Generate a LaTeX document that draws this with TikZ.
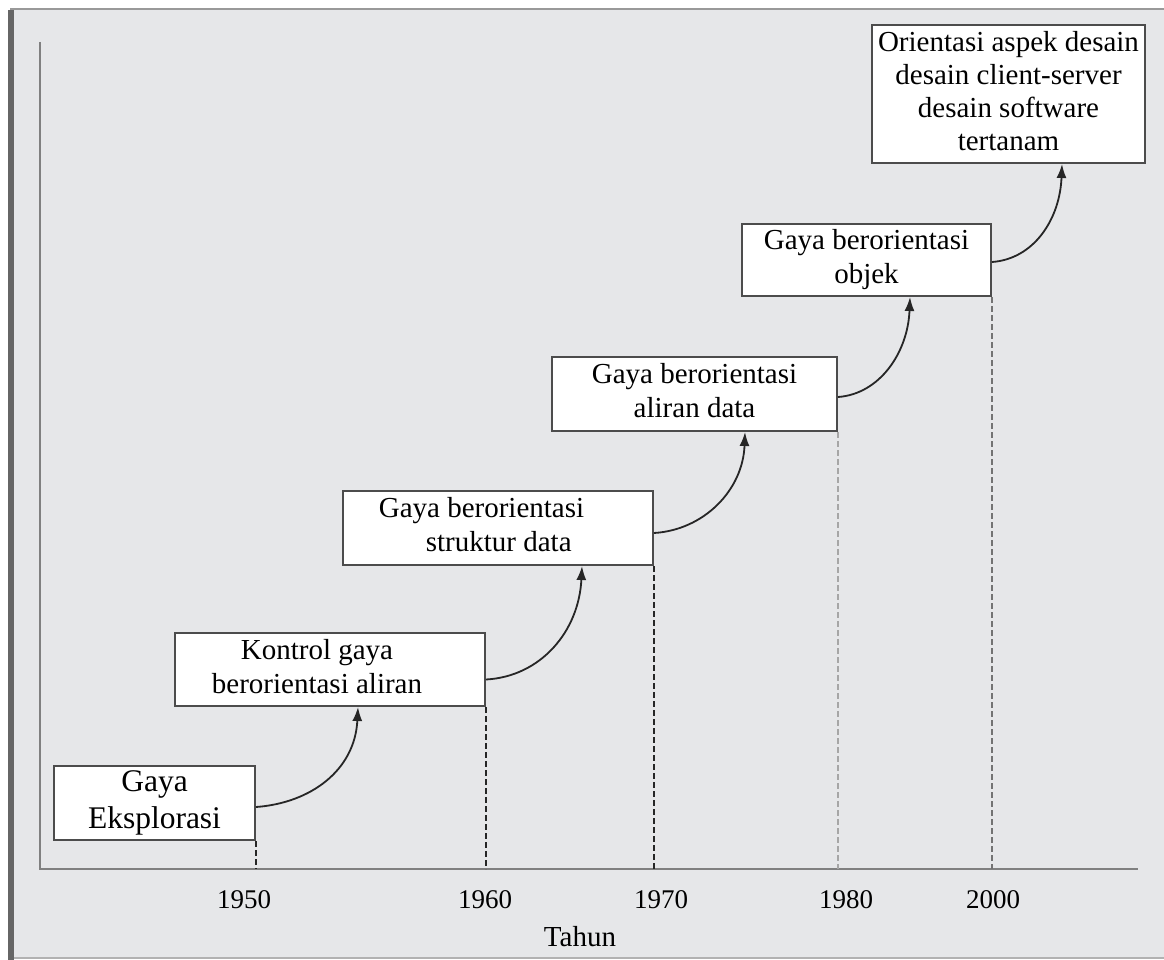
\documentclass[tikz,border=0pt]{standalone}
\usepackage{fontspec}
\setmainfont{Liberation Serif}
\usetikzlibrary{arrows.meta}
\definecolor{panel}{RGB}{230,231,233}
\definecolor{axisgray}{RGB}{128,128,128}
\newcommand{\boxlines}[1]{\begin{tabular}{@{}c@{}}#1\end{tabular}}
\begin{document}
\begin{tikzpicture}[x=1pt,y=-1pt,
  box/.style={draw=black!70, line width=2pt, fill=white, inner sep=0pt, font=\fontsize{29}{34}\selectfont},
  link/.style={draw=black!85, line width=1.8pt, -{Latex[length=14pt,width=10pt]}},
  tick/.style={dash pattern=on 6pt off 3pt, line width=2pt},
  year/.style={font=\fontsize{27}{32}\selectfont}]
\useasboundingbox (0,0) rectangle (1164,960);
\fill[white] (0,0) rectangle (1164,960);
\fill[panel] (14,10) rectangle (1164,957);
\draw[gray!80, line width=2pt] (10,9) -- (1164,9);
\fill[black!60] (8,10) rectangle (14,960);
\draw[gray!60, line width=2pt] (14,958) -- (1164,958);
% axes
\coordinate (O) at (40,869);
\coordinate (ytop) at (40,42);
\coordinate (xend) at (1138,869);
\draw[axisgray, line width=2.5pt] (ytop) -- (O) -- (xend);
% boxes
\node[box, minimum width=201pt, minimum height=72pt, font=\fontsize{31.5}{37}\selectfont] (b1) at (154.5,803) {\boxlines{Gaya\\Eksplorasi}};
\node[box, minimum width=310pt, minimum height=73pt] (b2) at (330,669.5) {\boxlines{Kontrol gaya\\berorientasi aliran}\hspace*{26pt}};
\node[box, minimum width=310pt, minimum height=74pt] (b3) at (498,528) {\begin{tabular}{@{}l@{}}Gaya berorientasi\\\hspace*{47pt}struktur data\end{tabular}\hspace*{33pt}};
\node[box, minimum width=285pt, minimum height=74pt] (b4) at (694.5,394) {\boxlines{Gaya berorientasi\\aliran data}};
\node[box, minimum width=249pt, minimum height=72pt] (b5) at (866.5,260) {\boxlines{Gaya berorientasi\\objek}};
\node[box, minimum width=273pt, minimum height=138pt, font=\fontsize{29}{33}\selectfont] (b6) at (1008.5,94) {\boxlines{Orientasi aspek desain\\desain client-server\\desain software\\tertanam}};
% dashed year lines
\draw[tick, black!85] (b1.south east) -- (b1.south east |- O);
\draw[tick, black!85] (b2.south east) -- (b2.south east |- O);
\draw[tick, black!85] (b3.south east) -- (b3.south east |- O);
\draw[tick, black!35] (b4.south east) -- (b4.south east |- O);
\draw[tick, black!55] (b5.south east) -- (b5.south east |- O);
% arrows
\draw[link] ([yshift=-4pt]b1.east) .. controls +(55,-4) and +(-3,63) .. ([xshift=28pt]b2.south);
\draw[link] ([yshift=-10pt]b2.east) .. controls +(55,-3) and +(-3,65) .. ([xshift=84pt]b3.south);
\draw[link] ([yshift=-5pt]b3.east) .. controls +(50,-3) and +(-2,58) .. ([xshift=50.5pt]b4.south);
\draw[link] ([yshift=-3pt]b4.east) .. controls +(42,-3) and +(-2,55) .. ([xshift=43.5pt]b5.south);
\draw[link] ([yshift=-2pt]b5.east) .. controls +(42,-3) and +(-2,55) .. ([xshift=53.5pt]b6.south);
% labels
\node[year] (y1950) at (244,900) {1950};
\node[year] (y1960) at (485,900) {1960};
\node[year] (y1970) at (661,900) {1970};
\node[year] (y1980) at (846,900) {1980};
\node[year] (y2000) at (993,900) {2000};
\node[font=\fontsize{29}{34}\selectfont] (tahun) at (580,937) {Tahun};
\end{tikzpicture}
\end{document}
